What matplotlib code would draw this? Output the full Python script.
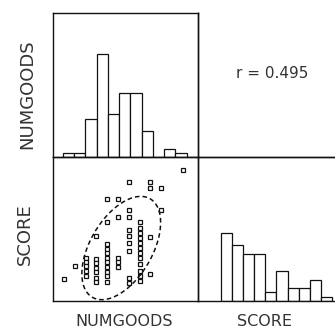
import numpy as np
import matplotlib
matplotlib.use("Agg")
import matplotlib.pyplot as plt

# ---- data -------------------------------------------------------------
# NUMGOODS histogram (bin edges in bin units, counts per bin)
numgoods_edges = [0, 1, 2, 3, 4, 5, 6, 7, 8, 9, 10, 11, 12]
numgoods_counts = [1, 1, 9, 24, 10, 15, 15, 6, 0, 2, 1, 0]

# SCORE histogram
score_edges = [0, 1, 2, 3, 4, 5, 6, 7, 8, 9, 10]
score_counts = [16, 13, 11, 11, 2, 7, 3, 3, 5, 1]

# scatter: NUMGOODS (x) vs SCORE (y)
numgoods = [0,
            1,
            2, 2, 2, 2, 2,
            3, 3, 3, 3, 3, 3, 3,
            4, 4, 4, 4, 4, 4, 4, 4, 4, 4, 4,
            5, 5, 5, 5, 5,
            6, 6, 6, 6, 6, 6, 6, 6, 6,
            7, 7, 7, 7, 7, 7, 7, 7, 7, 7, 7, 7,
            8, 8, 8, 8,
            9, 9,
            11]
score = [4.6,
         7.2,
         9.0, 8.1, 7.3, 6.3, 5.2,
         13.4, 8.8, 7.9, 6.9, 6.0, 4.8, 4.0,
         21.2, 16.5, 11.9, 10.8, 10.0, 9.0, 8.1, 7.1, 6.0, 5.2, 4.0,
         21.1, 17.5, 9.0, 8.0, 7.1,
         24.8, 18.9, 17.5, 14.8, 13.4, 12.0, 10.3, 4.8, 3.8,
         16.5, 15.2, 14.2, 13.1, 12.1, 11.0, 10.0, 9.0, 7.7, 6.3, 5.2, 4.2,
         24.8, 23.4, 13.3, 5.6,
         23.4, 18.9,
         27.2]

# correlation and ellipse summary
r_value = 0.495
numgoods_mean, score_mean = 5.3, 11.0
numgoods_sd, score_sd = 1.7, 5.0
ellipse_coverage = 0.90

# ---- layout -----------------------------------------------------------
W, H = 335, 331
fig = plt.figure(figsize=(W / 100, H / 100), dpi=100)
fig.patch.set_facecolor("white")

def px_axes(x0, y0, x1, y1):
    """Axes from pixel box (top-left origin)."""
    return fig.add_axes([x0 / W, (H - y1) / H, (x1 - x0) / W, (y1 - y0) / H])

LINE = "#111111"
SPINE_LW = 1.0

ax_tl = px_axes(53, 12.7, 198, 157.3)
ax_tr = px_axes(198, 12.7, 343, 157.3)
ax_bl = px_axes(53, 157.3, 198, 301)
ax_br = px_axes(198, 157.3, 343, 301)

for ax in (ax_tl, ax_tr, ax_bl, ax_br):
    ax.set_xticks([])
    ax.set_yticks([])
    ax.set_facecolor("none")
    for sp in ax.spines.values():
        sp.set_linewidth(SPINE_LW)
        sp.set_color(LINE)
ax_tr.spines["top"].set_visible(False)
ax_tr.spines["right"].set_visible(False)
ax_br.spines["right"].set_visible(False)

# ---- diagonal histograms ---------------------------------------------
def draw_hist(ax, edges, counts):
    edges = np.asarray(edges, float)
    ax.bar(edges[:-1], counts, width=np.diff(edges), align="edge",
           facecolor="white", edgecolor=LINE, linewidth=0.9)

draw_hist(ax_tl, numgoods_edges, numgoods_counts)
ax_tl.set_xlim(-0.86, 12.0)
ax_tl.set_ylim(0, 33.6)

draw_hist(ax_br, score_edges, score_counts)
ax_br.set_xlim(-2.07, 10.99)
ax_br.set_ylim(0, 33.6)

# ---- scatter with confidence ellipse ---------------------------------
ax_bl.plot(numgoods, score, linestyle="none", marker="s", markersize=2.6,
           markerfacecolor="white", markeredgecolor=LINE, markeredgewidth=0.9)

cov = np.array([[numgoods_sd ** 2, r_value * numgoods_sd * score_sd],
                [r_value * numgoods_sd * score_sd, score_sd ** 2]])
L = np.linalg.cholesky(cov)
k = np.sqrt(-2 * np.log(1 - ellipse_coverage))
t = np.linspace(0, 2 * np.pi, 300)
circle = np.vstack([np.cos(t), np.sin(t)])
ell = (L @ circle) * k
ax_bl.plot(numgoods_mean + ell[0], score_mean + ell[1], color=LINE,
           linewidth=1.1, linestyle=(0, (3, 2)))
ax_bl.set_xlim(-1.02, 12.41)
ax_bl.set_ylim(0, 29.85)

# ---- correlation text -------------------------------------------------
ax_tr.text((272 - 198) / 145, 1 - (73 - 12.7) / 144.6, f"r = {r_value:.3f}",
           transform=ax_tr.transAxes, ha="center", va="center",
           fontsize=11, color="#333333")

# ---- variable labels --------------------------------------------------
TXT = "#333333"
fig.text(27 / W, 1 - 94 / H, "NUMGOODS", rotation=90, ha="center",
         va="center", fontsize=13, color=TXT)
fig.text(25 / W, 1 - 234 / H, "SCORE", rotation=90, ha="center",
         va="center", fontsize=13, color=TXT)
fig.text(124 / W, 1 - 321 / H, "NUMGOODS", ha="center", va="center",
         fontsize=11.5, color=TXT)
fig.text(264 / W, 1 - 321 / H, "SCORE", ha="center", va="center",
         fontsize=11.5, color=TXT)

fig.savefig("out.png", dpi=100, facecolor="white")
